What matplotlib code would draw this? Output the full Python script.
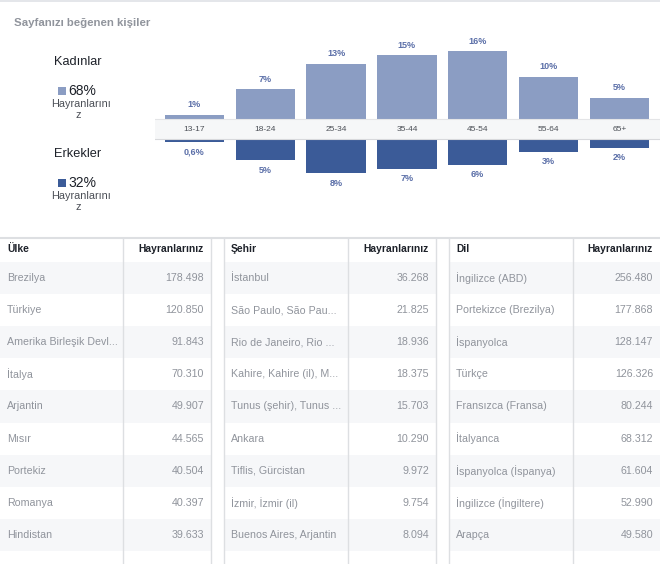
import matplotlib
matplotlib.use("Agg")
import matplotlib.pyplot as plt
from matplotlib.patches import Rectangle

plt.rcParams["font.family"] = ["Liberation Sans", "DejaVu Sans"]

# --- data -------------------------------------------------------------
age_groups = ["13-17", "18-24", "25-34", "35-44", "45-54", "55-64", "65+"]
women_pct = [1, 7, 13, 15, 16, 10, 5]
men_pct = [0.6, 5, 8, 7, 6, 3, 2]
women_total = 68
men_total = 32

countries = ["Brezilya", "Türkiye", "Amerika Birleşik Devl...", "İtalya", "Arjantin",
             "Mısır", "Portekiz", "Romanya", "Hindistan"]
country_fans = [178498, 120850, 91843, 70310, 49907, 44565, 40504, 40397, 39633]

cities = ["İstanbul", "São Paulo, São Pau...", "Rio de Janeiro, Rio ...",
          "Kahire, Kahire (il), M...", "Tunus (şehir), Tunus ...", "Ankara",
          "Tiflis, Gürcistan", "İzmir, İzmir (il)", "Buenos Aires, Arjantin"]
city_fans = [36268, 21825, 18936, 18375, 15703, 10290, 9972, 9754, 8094]

languages = ["İngilizce (ABD)", "Portekizce (Brezilya)", "İspanyolca", "Türkçe",
             "Fransızca (Fransa)", "İtalyanca", "İspanyolca (İspanya)",
             "İngilizce (İngiltere)", "Arapça"]
language_fans = [256480, 177868, 128147, 126326, 80244, 68312, 61604, 52990, 49580]

# --- style ------------------------------------------------------------
W, H = 660, 564
WOMEN_C = "#8b9dc3"
MEN_C = "#3b5b98"
LABEL_C = "#5b6fa8"
GREY_TXT = "#90949c"
DARK_TXT = "#1d2129"
LINE_C = "#dddfe2"
STRIPE_C = "#f6f7f9"


def fmt_pct(v):
    return f"{v:g}".replace(".", ",") + "%"


def fmt_num(n):
    return f"{n:,}".replace(",", ".")


fig = plt.figure(figsize=(W / 100, H / 100), dpi=100)
fig.patch.set_facecolor("white")

# pixel canvas for the page layout
cv = fig.add_axes([0, 0, 1, 1])
cv.set_xlim(0, W)
cv.set_ylim(H, 0)
cv.axis("off")

cv.add_patch(Rectangle((0, 0), W, 2, color="#e4e6ea", lw=0))
cv.text(14, 23, "Sayfanızı beğenen kişiler", fontsize=8.2, fontweight="bold",
        color=GREY_TXT, ha="left", va="center")

# gender legend on the left
for y0, name, total, col in [(62, "Kadınlar", women_total, WOMEN_C),
                             (154, "Erkekler", men_total, MEN_C)]:
    cv.text(78, y0, name, fontsize=9.2, color=DARK_TXT, ha="center", va="center")
    cv.add_patch(Rectangle((58, y0 + 25), 8, 8, color=col, lw=0))
    cv.text(68, y0 + 29, f"{total}%", fontsize=10, color=DARK_TXT,
            ha="left", va="center")
    cv.text(81, y0 + 42, "Hayranlarını", fontsize=7.8, color="#4b4f56",
            ha="center", va="center")
    cv.text(78, y0 + 53, "z", fontsize=7.8, color="#4b4f56",
            ha="center", va="center")

# --- age / gender bars --------------------------------------------------
px_per_pct = 4.25
band_mid = 129
gap = 10 / px_per_pct
step = 70.8
x_first = 194.5
ax_top, ax_bot = 40, 192
ax = fig.add_axes([155 / W, 1 - ax_bot / H, (W - 155) / W, (ax_bot - ax_top) / H])
ax.set_facecolor("none")
ax.set_xlim((155 - x_first) / step, (W - x_first) / step)
ax.set_ylim(-(ax_bot - band_mid) / px_per_pct, (band_mid - ax_top) / px_per_pct)
ax.axis("off")

xs = range(len(age_groups))
ax.bar(xs, women_pct, bottom=gap, width=0.84, color=WOMEN_C, lw=0, zorder=2)
ax.bar(xs, [-v for v in men_pct], bottom=-gap, width=0.84, color=MEN_C, lw=0, zorder=2)
for x, wv, mv, lab in zip(xs, women_pct, men_pct, age_groups):
    ax.annotate(fmt_pct(wv), (x, gap + wv), xytext=(0, 7.2), textcoords="offset points",
                ha="center", va="center", fontsize=6.5, fontweight="bold", color=LABEL_C)
    ax.annotate(fmt_pct(mv), (x, -gap - mv), xytext=(0, -7.2), textcoords="offset points",
                ha="center", va="center", fontsize=6.5, fontweight="bold", color=LABEL_C)
    ax.text(x, 0, lab, ha="center", va="center", fontsize=6, color="#4b4f56", zorder=5)

ax.axhspan(-gap, gap, color="#f6f7f8", lw=0, zorder=3)
ax.axhline(gap, color="#e4e5e7", lw=0.8, zorder=4)
ax.axhline(-gap, color="#d8d9dc", lw=0.8, zorder=4)

# --- tables -------------------------------------------------------------
top = 238
head_h = 24
row_h = 32.1
tables = [
    (0, 123, 211, "Ülke", countries, country_fans),
    (224, 348, 436, "Şehir", cities, city_fans),
    (449, 573, W, "Dil", languages, language_fans),
]
cv.plot([0, W], [top, top], color=LINE_C, lw=1.5, solid_capstyle="butt")
for x0, xm, x1, head, names, fans in tables:
    for i in range(10):
        if i % 2 == 0:
            cv.add_patch(Rectangle((x0, top + head_h + i * row_h), x1 - x0, row_h,
                                   color=STRIPE_C, lw=0, zorder=0))
    for xv in (x0, xm, x1):
        if 0 < xv < W:
            cv.plot([xv, xv], [top, H], color=LINE_C, lw=1, zorder=1)
    cv.text(x0 + 7, top + 11.5, head, fontsize=7.4, fontweight="bold",
            color=DARK_TXT, ha="left", va="center")
    cv.text(x1 - 7, top + 11.5, "Hayranlarınız", fontsize=7.4, fontweight="bold",
            color=DARK_TXT, ha="right", va="center")
    for i, (name, n) in enumerate(zip(names, fans)):
        yc = top + head_h + i * row_h + row_h / 2
        cv.text(x0 + 7, yc, name, fontsize=7.7, color=GREY_TXT, ha="left", va="center")
        cv.text(x1 - 7, yc, fmt_num(n), fontsize=7.7, color=GREY_TXT,
                ha="right", va="center")

fig.savefig("out.png", dpi=100)
